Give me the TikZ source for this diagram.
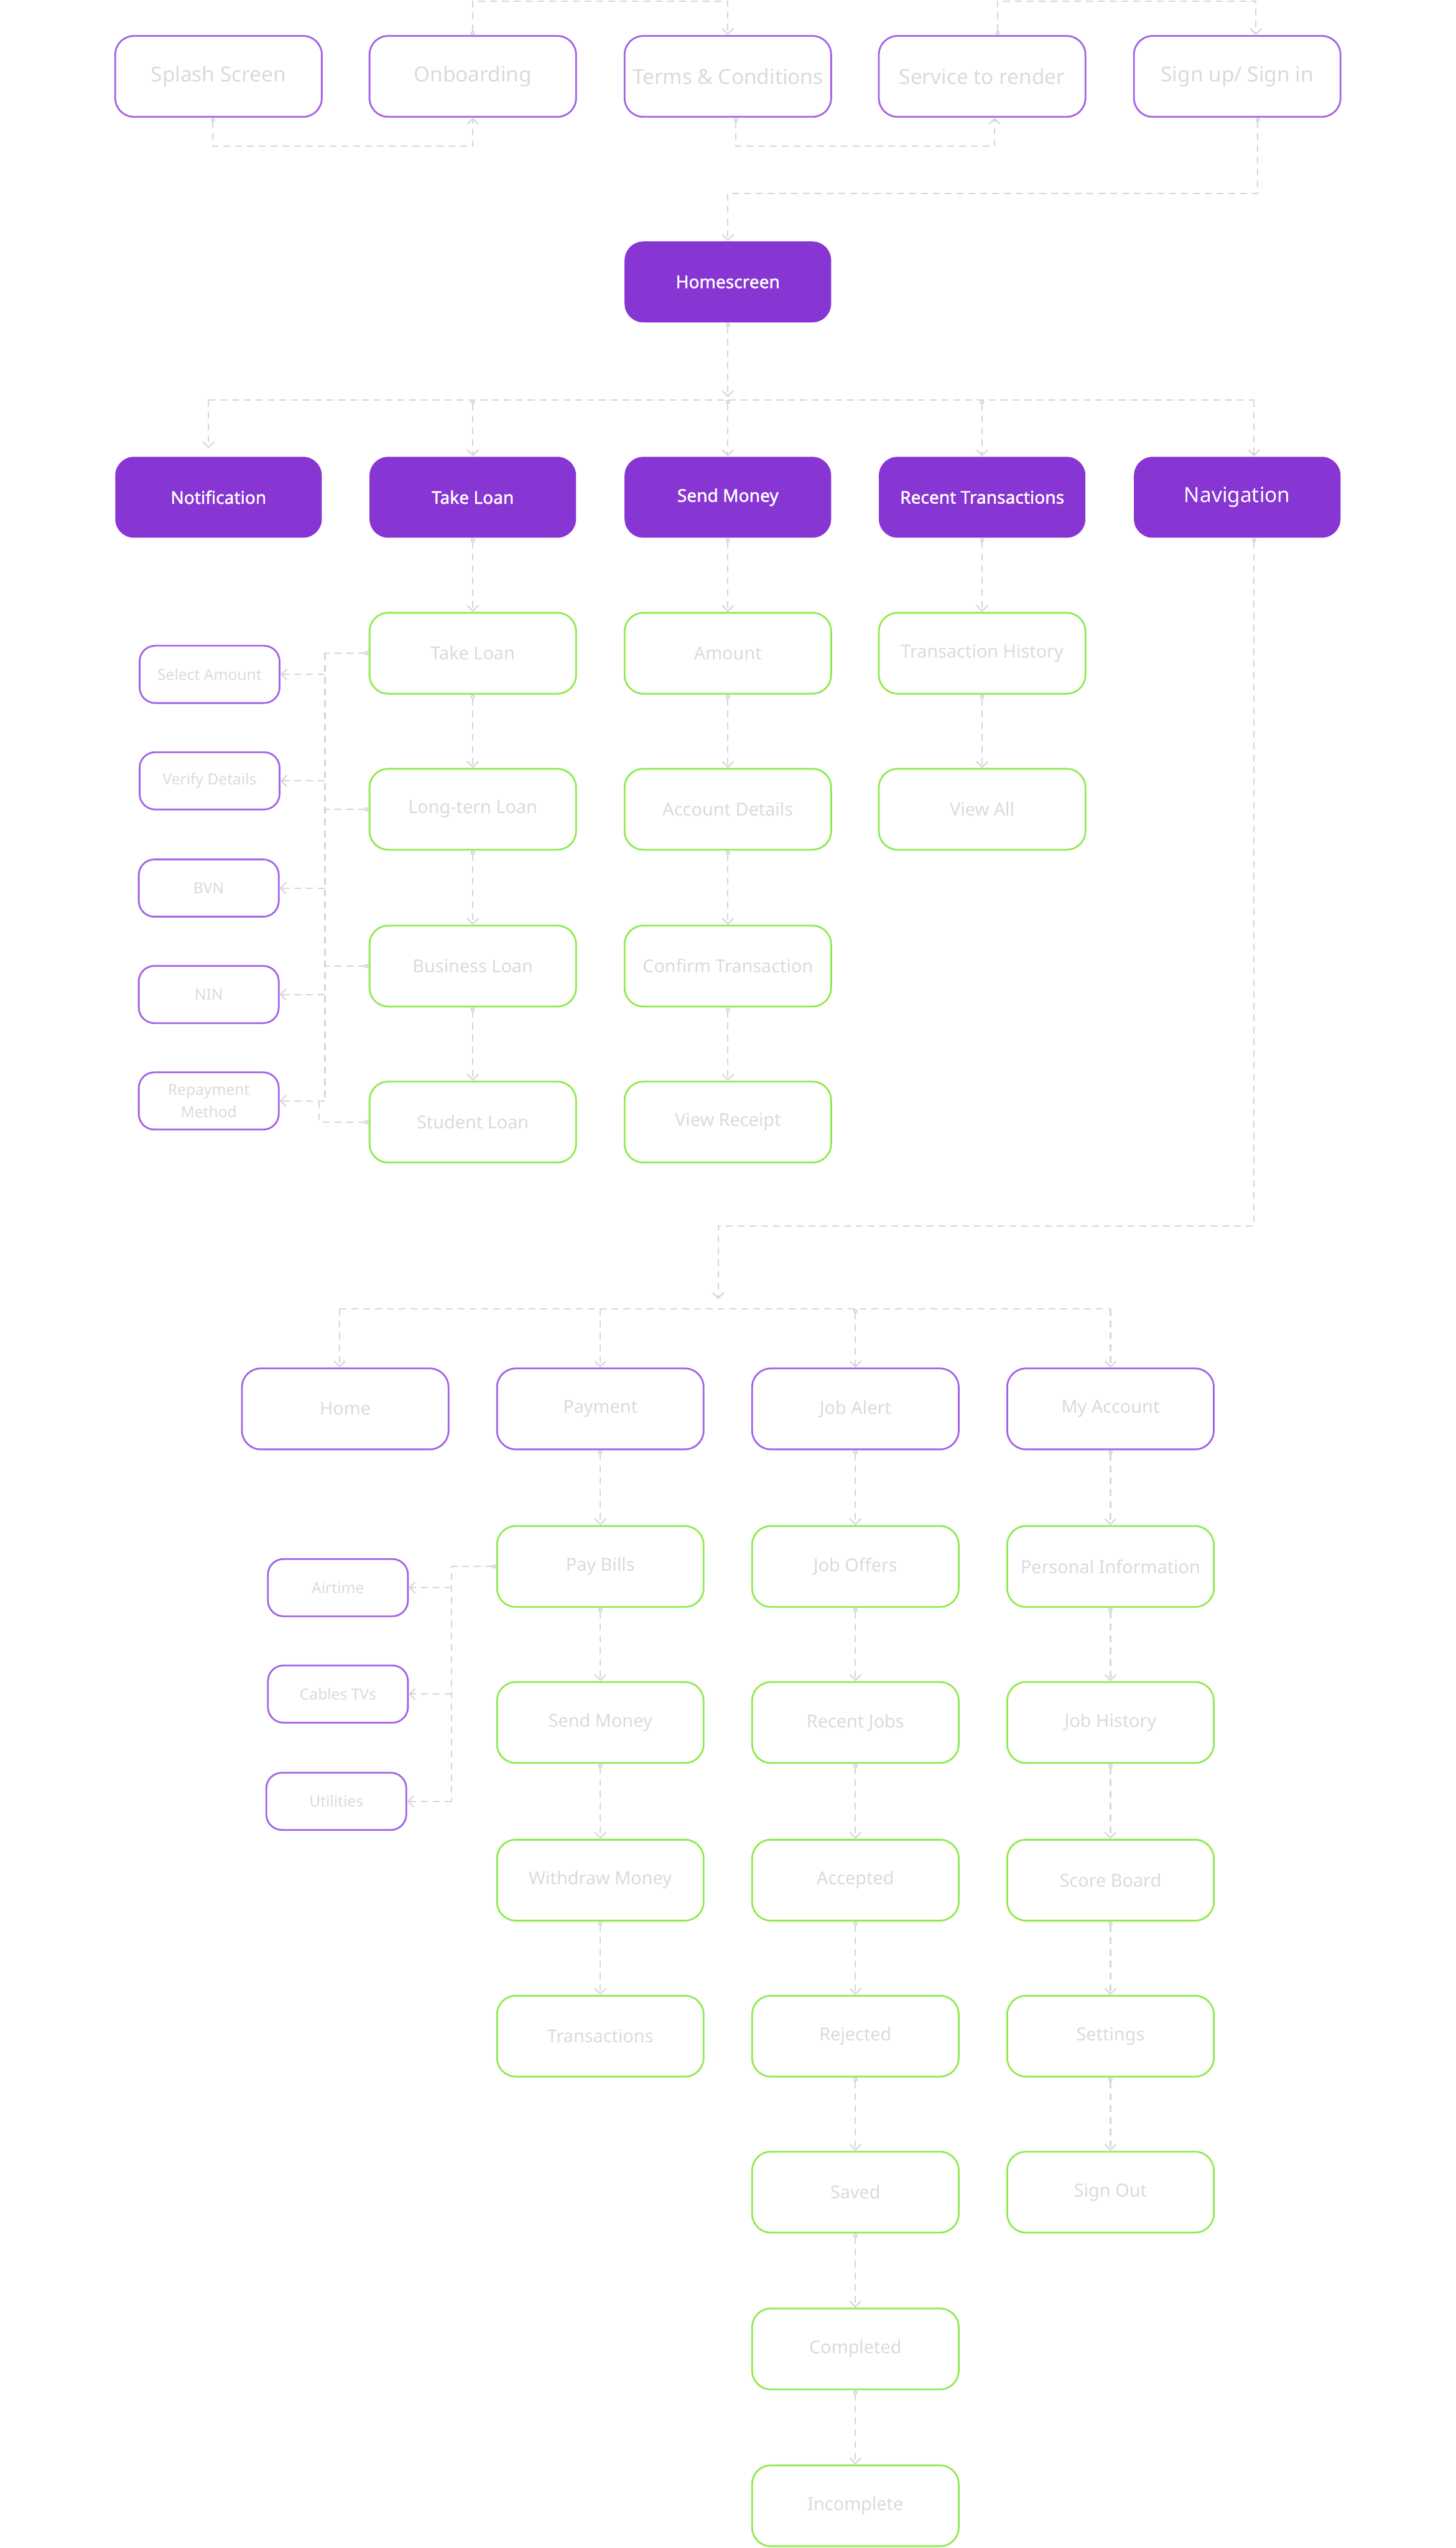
\documentclass[tikz,border=0pt]{standalone}
\usepackage{fontspec}
\setmainfont{Noto Sans}
\newfontfamily\hubfont{Noto Sans}[FakeBold=1.6]
\usepackage{xcolor}
\usepackage{tikz}
\usetikzlibrary{positioning,calc,arrows.meta}

\definecolor{appPurple}{HTML}{8735D3}
\definecolor{lilac}{HTML}{A462E8}
\definecolor{mint}{HTML}{8FEB4F}
\definecolor{faint}{HTML}{DADADA}
\definecolor{wiregray}{HTML}{D6D6D6}

\begin{document}
\begin{tikzpicture}[
    x=0.26116mm, y=-0.26116mm,
    every node/.style={font=\fontsize{8}{9.5}\selectfont, text=faint},
    stage/.style={draw=lilac, line width=0.8pt, rounded corners=3mm,
                  minimum width=33.2mm, minimum height=13mm, align=center,
                  font=\fontsize{9.5}{11}\selectfont},
    hub/.style={fill=appPurple, draw=none, rounded corners=3mm,
                minimum width=33.2mm, minimum height=13mm, align=center,
                text=white, font=\hubfont\fontsize{8}{9.5}\selectfont},
    menu/.style={stage, font=\fontsize{8.2}{9.5}\selectfont},
    screen/.style={draw=mint, line width=0.8pt, rounded corners=3mm,
                   minimum width=33.2mm, minimum height=13mm, align=center,
                   font=\fontsize{8.2}{9.5}\selectfont},
    detail/.style={draw=lilac, line width=0.8pt, rounded corners=2.5mm,
                   minimum width=22.5mm, minimum height=9.2mm, align=center,
                   font=\fontsize{7}{10.5}\selectfont},
    wire/.style={draw=wiregray, line width=0.6pt, dash pattern=on 1.1mm off 0.8mm},
    link/.style={wire, {Circle[open,length=0.7mm]}-{Straight Barb[length=0.9mm,width=1.8mm]}},
    feed/.style={wire, -{Straight Barb[length=0.9mm,width=1.8mm]}},
    tap/.style={wire, {Circle[open,length=0.7mm]}-},
]
\useasboundingbox (0,0) rectangle (896,1568);

% =====================================================================
% ONBOARDING FLOW
% =====================================================================
\node[stage] (splash)  at (134.5,47) {Splash Screen};
\node[stage] (onboard) at (291,47)   {Onboarding};
\node[stage] (terms)   at (448,47)   {Terms \& Conditions};
\node[stage] (service) at (604.5,47) {Service to render};
\node[stage] (signup)  at (761.5,47) {Sign up/ Sign in};

\node[hub] (homescreen) at (448,173.5) {Homescreen};

% connectors run over the top edge and under the row
\coordinate (topline) at (0,0.8);
\coordinate (lowline) at (0,90);
\coordinate (svcup) at ([xshift=2.5mm]service.north);
\coordinate (sgnin) at ([xshift=3mm]signup.north);
\coordinate (splout) at ([xshift=-0.9mm]splash.south);
\coordinate (trmout) at ([xshift=1.3mm]terms.south);
\coordinate (svcin) at ([xshift=2mm]service.south);
\coordinate (sgnout) at ([xshift=3.3mm]signup.south);

\draw[link] (onboard.north) -- (onboard.north |- topline) -| (terms.north);
\draw[link] (svcup) -- (svcup |- topline) -| (sgnin);
\draw[link] (splout) |- (onboard.south |- lowline) -- (onboard.south);
\draw[link] (trmout) |- (svcin |- lowline) -- (svcin);
\draw[link] (sgnout) |- (homescreen.north |- 0,119) -- (homescreen.north);

% =====================================================================
% HOMESCREEN SECTIONS
% =====================================================================
\node[hub] (notif)     at (134.5,306) {Notification};
\node[hub] (takeloan)  at (291,306)   {Take Loan};
\node[hub] (sendmoney) at (448,306)   {Send Money};
\node[hub] (recent)    at (604.5,306) {Recent Transactions};
\node[hub, font=\fontsize{9.5}{11}\selectfont] (nav) at (761.5,306) {Navigation};

\coordinate (hbus) at (448,246);
\coordinate (notifin) at ([xshift=-1.6mm]notif.north);
\coordinate (navin) at ([xshift=2.7mm]nav.north);
\draw[link] (homescreen.south) -- ([yshift=0.4mm]hbus);
\draw[wire] (notifin |- hbus) -- (navin |- hbus);
\draw[feed] (notifin |- hbus) -- ([yshift=1.3mm]notifin);
\foreach \n in {takeloan,sendmoney,recent}
    \draw[link] (\n.north |- hbus) -- (\n.north);
\draw[feed] (navin |- hbus) -- (navin);

% Take Loan column
\node[screen] (tl1) at (291,402)   {Take Loan};
\node[screen] (tl2) at (291,498)   {Long-tern Loan};
\node[screen] (tl3) at (291,594.5) {Business Loan};
\node[screen] (tl4) at (291,690.5) {Student Loan};

% Send Money column
\node[screen] (sm1) at (448,402)   {Amount};
\node[screen] (sm2) at (448,498)   {Account Details};
\node[screen] (sm3) at (448,594.5) {Confirm Transaction};
\node[screen] (sm4) at (448,690.5) {View Receipt};

% Recent Transactions column
\node[screen] (rt1) at (604.5,402) {Transaction History};
\node[screen] (rt2) at (604.5,498) {View All};

\foreach \a/\b in {takeloan/tl1, tl1/tl2, tl2/tl3, tl3/tl4,
                   sendmoney/sm1, sm1/sm2, sm2/sm3, sm3/sm4,
                   recent/rt1, rt1/rt2}
    \draw[link] (\a.south) -- (\b.north);

% loan requirements on the left
\node[detail] (selamt) at (129,415)   {Select Amount};
\node[detail] (verify) at (129,480.5) {Verify Details};
\node[detail] (bvn)    at (128.5,546.5) {BVN};
\node[detail] (nin)    at (128.5,612) {NIN};
\node[detail] (repay)  at (128.5,677.5) {Repayment\\Method};

\coordinate (lbus) at (200,0);
\coordinate (sbus) at (196.5,0);
\foreach \n in {tl1,tl2,tl3}
    \draw[tap] (\n.west) -- (\n.west -| lbus);
\draw[wire] (tl1.west -| lbus) -- (repay.east -| lbus);
\draw[tap] (tl4.west) -| (repay.east -| sbus) -- (repay.east -| lbus);
\foreach \n in {selamt,verify,bvn,nin,repay}
    \draw[feed] (\n.east -| lbus) -- (\n.east);

% =====================================================================
% NAVIGATION
% =====================================================================
\node[menu] (nhome) at (212.5,867) {Home};
\node[menu] (npay)  at (369.5,867) {Payment};
\node[menu] (njob)  at (526.5,867) {Job Alert};
\node[menu] (nacc)  at (683.5,867) {My Account};

\coordinate (navout) at ([xshift=2.7mm]nav.south);
\coordinate (nbus) at (442,805.5);
\coordinate (nhomein) at ([xshift=-0.9mm]nhome.north);
\draw[link] (navout) |- (442,754.5) -- (442,799.5);
\draw[wire] (nhomein |- nbus) -- (nacc.north |- nbus);
\draw[feed] (nhomein |- nbus) -- (nhomein);
\draw[feed] (npay.north |- nbus) -- (npay.north);
\draw[link] (njob.north |- nbus) -- (njob.north);
\draw[feed] (nacc.north |- nbus) -- (nacc.north);

% Payment column
\node[screen] (pay1) at (369.5,964)  {Pay Bills};
\node[screen] (pay2) at (369.5,1060) {Send Money};
\node[screen] (pay3) at (369.5,1157) {Withdraw Money};
\node[screen] (pay4) at (369.5,1253) {Transactions};

% Job Alert column
\node[screen] (job1) at (526.5,964)    {Job Offers};
\node[screen] (job2) at (526.5,1060)   {Recent Jobs};
\node[screen] (job3) at (526.5,1157)   {Accepted};
\node[screen] (job4) at (526.5,1253)   {Rejected};
\node[screen] (job5) at (526.5,1349)   {Saved};
\node[screen] (job6) at (526.5,1445.5) {Completed};
\node[screen] (job7) at (526.5,1542)   {Incomplete};

% My Account column
\node[screen] (acc1) at (683.5,964)  {Personal Information};
\node[screen] (acc2) at (683.5,1060) {Job History};
\node[screen] (acc3) at (683.5,1157) {Score Board};
\node[screen] (acc4) at (683.5,1253) {Settings};
\node[screen] (acc5) at (683.5,1349) {Sign Out};

\foreach \a/\b in {npay/pay1, pay1/pay2, pay2/pay3, pay3/pay4,
                   njob/job1, job1/job2, job2/job3, job3/job4, job4/job5, job5/job6, job6/job7,
                   nacc/acc1, acc1/acc2, acc2/acc3, acc3/acc4, acc4/acc5}
    \draw[link] (\a.south) -- (\b.north);

% bill types on the left
\node[detail] (airtime) at (208,977)    {Airtime};
\node[detail] (cables)  at (208,1042.5) {Cables TVs};
\node[detail] (utility) at (207,1108.5) {Utilities};

\coordinate (pbus) at (278,0);
\draw[tap] (pay1.west) -| (utility.east -| pbus);
\foreach \n in {airtime,cables,utility}
    \draw[feed] (\n.east -| pbus) -- (\n.east);

\end{tikzpicture}
\end{document}
